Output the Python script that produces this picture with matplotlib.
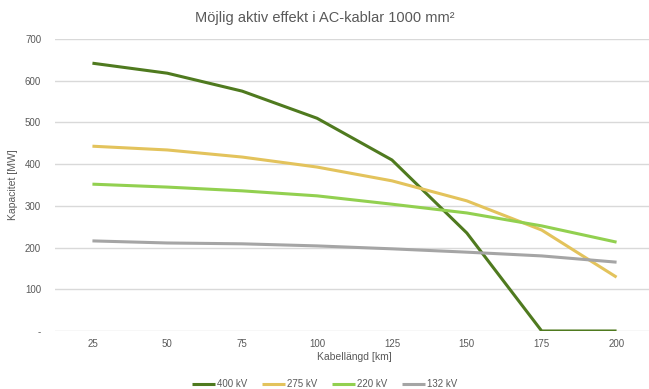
import matplotlib
matplotlib.use("Agg")
import matplotlib.pyplot as plt
from matplotlib.ticker import FuncFormatter

plt.rcParams["font.family"] = ["Liberation Sans", "DejaVu Sans"]

# Data
langd_km = [25, 50, 75, 100, 125, 150, 175, 200]
kv400 = [642, 618, 575, 510, 410, 235, 0, 0]
kv275 = [443, 434, 417, 393, 360, 312, 242, 129]
kv220 = [352, 345, 336, 324, 304, 283, 252, 213]
kv132 = [216, 211, 209, 204, 197, 189, 180, 165]

serier = [
    ("400 kV", kv400, "#4F7A1F"),
    ("275 kV", kv275, "#E3C35C"),
    ("220 kV", kv220, "#92D050"),
    ("132 kV", kv132, "#A5A5A5"),
]

TEXT = "#595959"

fig = plt.figure(figsize=(6.49, 3.89), dpi=100)
ax = fig.add_axes([55 / 649, 58 / 389, 599 / 649, 292 / 389])

x = list(range(len(langd_km)))
for namn, y, farg in serier:
    ax.plot(x, y, color=farg, linewidth=2.2, label=namn, solid_capstyle="butt")

ax.set_xlim(-0.5, len(langd_km) - 0.5)
ax.set_ylim(0, 700)
ax.set_yticks(range(0, 701, 100))
ax.yaxis.set_major_formatter(FuncFormatter(lambda v, p: "-" if v == 0 else f"{int(v)}"))
ax.set_xticks(x)
ax.set_xticklabels([str(v) for v in langd_km])

ax.grid(axis="y", color="#D9D9D9", linewidth=1)
ax.set_axisbelow(True)
for s in ax.spines.values():
    s.set_visible(False)
ax.tick_params(axis="y", length=0, labelsize=7, colors=TEXT, pad=10)
ax.tick_params(axis="x", length=0, labelsize=7, colors=TEXT, pad=6)

ax.set_xlabel("Kabellängd [km]", fontsize=7.5, color=TEXT, labelpad=2)
ax.set_ylabel("Kapacitet [MW]", fontsize=7.5, color=TEXT, labelpad=5)
fig.text(0.5, 1 - 18 / 389, "Möjlig aktiv effekt i AC-kablar 1000 mm²",
         ha="center", va="center", fontsize=10.5, color=TEXT)

fig.legend(loc="center", bbox_to_anchor=(0.5, 1 - 384 / 389), ncol=4, frameon=False,
           fontsize=7, labelcolor=TEXT, handlelength=2.4, handletextpad=0.2,
           columnspacing=1.5)

fig.savefig("out.png", dpi=100)
